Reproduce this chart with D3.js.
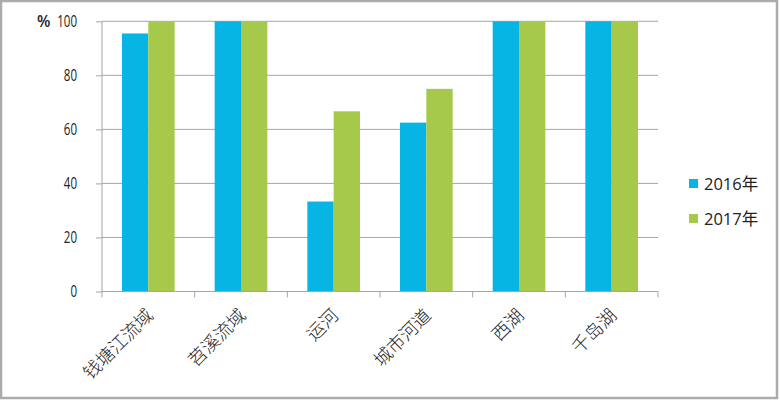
<!DOCTYPE html>
<html><head><meta charset="utf-8">
<script src="https://cdn.jsdelivr.net/npm/d3@7"></script>
<style>body{margin:0;background:#fff}svg{display:block}</style>
</head><body>
<script>
const categories = ["钱塘江流域","苕溪流域","运河","城市河道","西湖","千岛湖"];
const series = ["2016年","2017年"];
const values2016 = [95.5,100,33.3,62.5,100,100];
const values2017 = [100,100,66.7,75,100,100];
const yTicks = [0,20,40,60,80,100];
const colors = ["#06b5e4","#a7c94b"];

const W=780,H=401;
const svg=d3.select("body").append("svg").attr("width",W).attr("height",H);
svg.append("rect").attr("x",1).attr("y",1).attr("width",776).attr("height",397)
  .attr("fill","#fff").attr("stroke","#ababab").attr("stroke-width",2.5);

const m={l:102,r:658,t:21.3,b:291.5};
const x=d3.scaleBand().domain(categories).range([m.l,m.r]).paddingInner(0).paddingOuter(0);
const x1=d3.scaleBand().domain(series).range([0,x.bandwidth()]).paddingInner(0).paddingOuter(0.76);
const y=d3.scaleLinear().domain([0,100]).range([m.b,m.t]);

const grid="#a6a6a6";
svg.append("g").selectAll("line").data(yTicks.filter(d=>d>0)).join("line")
  .attr("x1",m.l).attr("x2",m.r).attr("y1",d=>y(d)).attr("y2",d=>y(d))
  .attr("stroke",grid).attr("stroke-width",1);

const data=categories.map((c,i)=>({c,v:[values2016[i],values2017[i]]}));
const g=svg.append("g");
data.forEach(d=>{
  series.forEach((s,j)=>{
    g.append("rect").attr("x",x(d.c)+x1(s)).attr("width",x1.bandwidth())
      .attr("y",y(d.v[j])).attr("height",y(0)-y(d.v[j])).attr("fill",colors[j]);
  });
});

const ya=svg.append("g").attr("transform",`translate(${m.l},0)`)
  .call(d3.axisLeft(y).tickValues(yTicks).tickSize(6).tickPadding(19));
ya.select(".domain").attr("stroke",grid).attr("d",`M0,${m.t}V${m.b}`);
ya.selectAll(".tick line").attr("stroke",grid);
ya.selectAll(".tick text").attr("font-family","'Open Sans',sans-serif").attr("font-size",15.5).attr("fill","#222")
  .attr("textLength",d=>String(d).length*6.6).attr("lengthAdjust","spacingAndGlyphs");

svg.append("text").attr("x",37).attr("y",y(100)+6).text("%")
  .attr("font-family","'Open Sans',sans-serif").attr("font-size",15.5).attr("font-weight",600).attr("fill","#222");

const xa=svg.append("g").attr("transform",`translate(0,${m.b})`);
xa.append("line").attr("x1",m.l).attr("x2",m.r).attr("stroke",grid);
const bounds=categories.map(c=>x(c)).concat([m.r]);
xa.selectAll("line.t").data(bounds).join("line").attr("class","t")
  .attr("x1",d=>d).attr("x2",d=>d).attr("y1",0).attr("y2",6).attr("stroke",grid);
xa.selectAll("text").data(categories).join("text")
  .attr("transform",d=>`translate(${x(d)+x.bandwidth()/2+6},${25}) rotate(-45)`)
  .attr("text-anchor","end").text(d=>d)
  .attr("font-family","'Noto Sans CJK SC'").attr("font-weight",300)
  .attr("font-size",18).attr("fill","#222");

const lg=svg.append("g");
series.forEach((s,i)=>{
  const yy=179+i*35;
  lg.append("rect").attr("x",689).attr("y",yy).attr("width",9).attr("height",9).attr("fill",colors[i]);
  lg.append("text").attr("x",704).attr("y",yy+10.5).text(s)
    .attr("font-family","'Open Sans','Noto Sans CJK SC',sans-serif").attr("font-size",16.5).attr("fill","#222");
});
</script>
</body></html>
